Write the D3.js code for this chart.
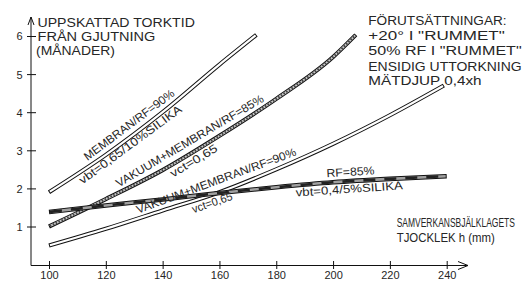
<!DOCTYPE html>
<html><head><meta charset="utf-8">
<script src="https://cdn.jsdelivr.net/npm/d3@7"></script>
<style>
html,body{margin:0;padding:0;background:#fff;}
svg{display:block;}
text{font-family:"Liberation Sans",Arial,sans-serif;fill:#262626;}
</style>
</head><body>
<svg id="c" width="523" height="281"></svg>
<script>
// ---- data ----
const xTicks=[100,120,140,160,180,200,220,240];
const yTicks=[1,2,3,4,5,6];
// MEMBRAN/RF=90%, vbt=0,65/10%SILIKA
const hA=[100,120,140,160,173];
const tA=[1.9,2.88,4.0,5.25,6.03];
// VAKUUM+MEMBRAN/RF=85%, vct=0,65
const hB=[100,120,140,160,180,200,208];
const tB=[1.0,1.72,2.48,3.38,4.35,5.45,6.03];
// VAKUUM+MEMBRAN/RF=90%, vct=0,65
const hC=[100,120,140,160,180,200,220,239];
const tC=[0.5,0.94,1.42,1.9,2.5,3.17,3.92,4.7];
// RF=85%, vbt=0,4/5%SILIKA
const hD=[100,120,140,160,180,200,220,240];
const tD=[1.38,1.55,1.71,1.88,2.03,2.16,2.25,2.32];
const yTitle=["UPPSKATTAD TORKTID","FRÅN GJUTNING","(MÅNADER)"];
const xTitle=["SAMVERKANSBJÄLKLAGETS","TJOCKLEK h (mm)"];
const notes=["FÖRUTSÄTTNINGAR:","+20° I \"RUMMET\"","50% RF I \"RUMMET\"","ENSIDIG UTTORKNING","MÄTDJUP 0,4xh"];

// ---- drawing ----
const svg=d3.select("#c");
const x=d3.scaleLinear().domain([100,240]).range([49,446.7]);
const y=d3.scaleLinear().domain([0,6]).range([264.6,36]);
const axisX=31, axisY=265.5, yTop=17, xEnd=468;
const FONT="Liberation Sans, Arial, sans-serif";

// axes lines + arrows
svg.append("line").attr("x1",axisX).attr("y1",yTop).attr("x2",axisX).attr("y2",axisY).attr("stroke","#111");
svg.append("line").attr("x1",axisX).attr("y1",axisY).attr("x2",xEnd).attr("y2",axisY).attr("stroke","#111");
svg.append("polyline").attr("points",`${axisX-3},${yTop+8} ${axisX},${yTop} ${axisX+3},${yTop+8}`).attr("fill","none").attr("stroke","#111");
svg.append("polyline").attr("points",`${xEnd-10},${axisY-4} ${xEnd},${axisY} ${xEnd-10},${axisY+4}`).attr("fill","none").attr("stroke","#111");

const gy=svg.append("g").attr("transform",`translate(${axisX},0)`)
  .call(d3.axisLeft(y).tickValues(yTicks).tickSize(4).tickFormat(d3.format("d")));
gy.attr("font-family",FONT).attr("font-size",11);
gy.select(".domain").remove();
gy.selectAll(".tick line").attr("x1",5).attr("x2",-4).attr("stroke","#111");
gy.selectAll(".tick text").attr("x",-8.5).attr("dy","0.36em");

const gx=svg.append("g").attr("transform",`translate(0,${axisY})`)
  .call(d3.axisBottom(x).tickValues(xTicks).tickSize(4).tickFormat(d3.format("d")));
gx.attr("font-family",FONT).attr("font-size",11);
gx.select(".domain").remove();
gx.selectAll(".tick line").attr("y1",-4.5).attr("y2",3.5).attr("stroke","#111");
gx.selectAll(".tick text").attr("y",13.5).attr("dy",0);

// curves
const series=[
  {h:hA,t:tA,style:"plain"},
  {h:hB,t:tB,style:"hatch"},
  {h:hC,t:tC,style:"plain"},
  {h:hD,t:tD,style:"dark"}
];
const line=d3.line().x(d=>x(d[0])).y(d=>y(d[1])).curve(d3.curveMonotoneX);
const order=[0,2,1,3];
order.forEach(i=>{
  const s=series[i];
  const pts=s.h.map((h,k)=>[h,s.t[k]]);
  const dstr=line(pts);
  const outerW=s.style==="dark"?4.6:4.2;
  svg.append("path").attr("d",dstr).attr("fill","none").attr("stroke","#111").attr("stroke-width",outerW);
  const inner=svg.append("path").attr("d",dstr).attr("fill","none")
    .attr("stroke",s.style==="plain"?"#fff":(s.style==="hatch"?"#c8c8c8":"#a0a0a0"))
    .attr("stroke-width",outerW-2);
  const L=inner.node().getTotalLength();
  inner.attr("stroke-dasharray",`0,1,${L-2},${L}`);
  if(s.style!=="plain"){
    svg.append("path").attr("d",dstr).attr("fill","none")
      .attr("stroke",s.style==="hatch"?"#454545":"#222")
      .attr("stroke-width",outerW-2)
      .attr("stroke-dasharray",s.style==="hatch"?"1.6,1.6":"12,9")
      .attr("stroke-dashoffset",-1);
  }
});

// text helper: draw at font size, then squeeze horizontally to target width
function fitText(str,size,len,tf){
  const t=svg.append("text").attr("font-size",size).text(str);
  const nat=t.node().getComputedTextLength();
  t.attr("transform",`${tf} scale(${len/nat},1)`);
  return t;
}

// curve labels (placed relative to curves)
const interp=series.map(s=>d3.scaleLinear().domain(s.h).range(s.t));
const labels=[
  {s:0,text:"MEMBRAN/RF=90%",h0:114.6,h1:145.6,d:5},
  {s:0,text:"vbt=0,65/10%SILIKA",h0:109.3,h1:144.6,d:-12},
  {s:1,text:"VAKUUM+MEMBRAN/RF=85%",h0:125.4,h1:176.8,d:4.5},
  {s:1,text:"vct=0,65",h0:141.5,h1:157.5,d:-12},
  {s:2,text:"VAKUUM+MEMBRAN/RF=90%",h0:131.9,h1:187.9,d:4.5},
  {s:2,text:"vct=0,65",h0:149.5,h1:163.5,d:-12},
  {s:3,text:"RF=85%",h0:197.9,h1:214.8,d:5.5},
  {s:3,text:"vbt=0,4/5%SILIKA",h0:186.7,h1:224.4,d:-11}
];
labels.forEach(lb=>{
  const f=interp[lb.s];
  const x0=x(lb.h0), y0=y(f(lb.h0)), x1=x(lb.h1), y1=y(f(lb.h1));
  const dx=x1-x0, dy=y1-y0, L=Math.hypot(dx,dy);
  const nx=dy/L, ny=-dx/L;
  const px=x0+nx*lb.d, py=y0+ny*lb.d;
  const ang=Math.atan2(dy,dx)*180/Math.PI;
  fitText(lb.text,11.5,L,`translate(${px},${py}) rotate(${ang})`);
});

// static texts
const yTitlePos=[[37.5,26.5,157.5],[37.5,40.5,118],[36,54.5,79]];
yTitle.forEach((s,i)=>fitText(s,12,yTitlePos[i][2],`translate(${yTitlePos[i][0]},${yTitlePos[i][1]})`));
const noteBase=[25,39.5,55,70.5,85], noteLen=[138.5,136.7,153.4,153.4,113.4];
notes.forEach((s,i)=>fitText(s,13,noteLen[i],`translate(368.3,${noteBase[i]})`));
const xTitlePos=[[396.7,227,118.3],[396.7,241.5,98.3]];
xTitle.forEach((s,i)=>fitText(s,12.5,xTitlePos[i][2],`translate(${xTitlePos[i][0]},${xTitlePos[i][1]})`));
</script>
</body></html>
